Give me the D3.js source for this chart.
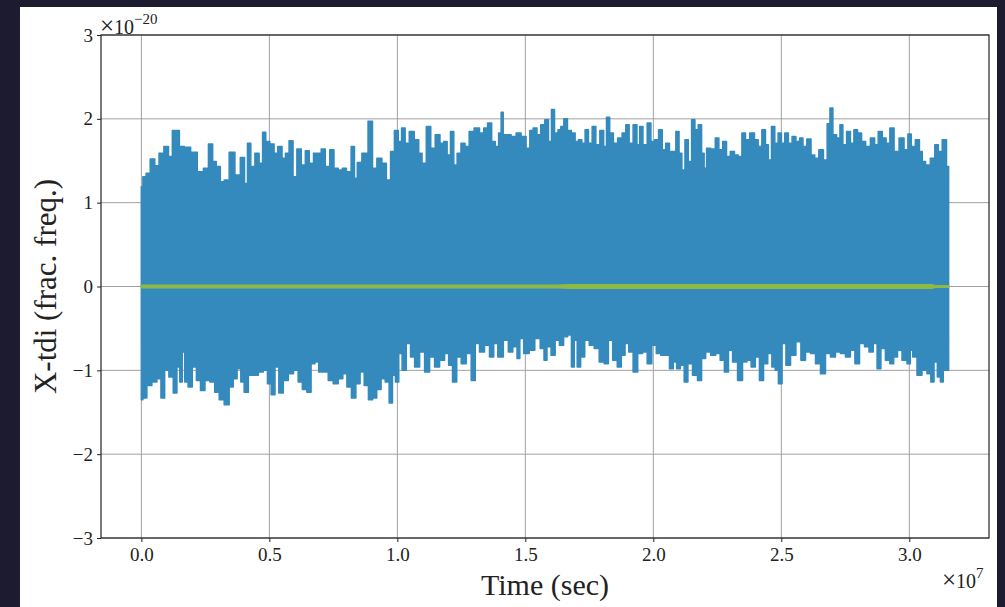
<!DOCTYPE html>
<html>
<head>
<meta charset="utf-8">
<script src="https://cdn.jsdelivr.net/npm/d3@7"></script>
<style>
body { margin: 0; background: #1d1b30; }
</style>
</head>
<body>
<div id="containerDiv"></div>
<script>
// time in units of 1e7 sec, strain in units of 1e-20
var upperTime = [0, 0.012, 0.025, 0.044, 0.061, 0.077, 0.099, 0.113, 0.129, 0.142, 0.155, 0.181, 0.204, 0.233, 0.252, 0.272, 0.285, 0.300, 0.317, 0.330, 0.356, 0.375, 0.398, 0.408, 0.421, 0.434, 0.453, 0.467, 0.480, 0.492, 0.512, 0.525, 0.541, 0.558, 0.568, 0.586, 0.599, 0.616, 0.633, 0.648, 0.664, 0.681, 0.694, 0.711, 0.726, 0.746, 0.759, 0.779, 0.791, 0.811, 0.828, 0.837, 0.850, 0.873, 0.898, 0.908, 0.932, 0.947, 0.967, 0.980, 0.997, 1.010, 1.023, 1.038, 1.055, 1.077, 1.090, 1.103, 1.123, 1.138, 1.158, 1.175, 1.188, 1.201, 1.214, 1.227, 1.240, 1.257, 1.272, 1.289, 1.311, 1.331, 1.344, 1.361, 1.376, 1.389, 1.402, 1.409, 1.418, 1.435, 1.454, 1.474, 1.493, 1.513, 1.522, 1.539, 1.552, 1.568, 1.584, 1.597, 1.607, 1.621, 1.634, 1.643, 1.658, 1.671, 1.688, 1.701, 1.714, 1.727, 1.740, 1.753, 1.769, 1.782, 1.800, 1.812, 1.822, 1.837, 1.851, 1.870, 1.886, 1.899, 1.912, 1.930, 1.942, 1.951, 1.968, 1.984, 1.997, 2.013, 2.028, 2.042, 2.055, 2.071, 2.081, 2.095, 2.106, 2.117, 2.130, 2.143, 2.156, 2.169, 2.182, 2.195, 2.202, 2.214, 2.234, 2.250, 2.262, 2.280, 2.292, 2.309, 2.325, 2.338, 2.354, 2.366, 2.387, 2.403, 2.416, 2.432, 2.444, 2.455, 2.468, 2.481, 2.494, 2.507, 2.520, 2.535, 2.549, 2.565, 2.578, 2.591, 2.608, 2.624, 2.637, 2.656, 2.673, 2.685, 2.695, 2.708, 2.724, 2.734, 2.747, 2.763, 2.777, 2.790, 2.806, 2.821, 2.838, 2.858, 2.871, 2.886, 2.903, 2.916, 2.932, 2.949, 2.971, 2.988, 3.001, 3.014, 3.033, 3.046, 3.055, 3.072, 3.092, 3.107, 3.120, 3.137, 3.1536];
var upperVal = [1.19, 1.31, 1.35, 1.52, 1.44, 1.59, 1.67, 1.55, 1.86, 1.86, 1.67, 1.66, 1.60, 1.37, 1.41, 1.70, 1.49, 1.43, 1.25, 1.27, 1.60, 1.33, 1.54, 1.23, 1.71, 1.43, 1.59, 1.47, 1.84, 1.73, 1.70, 1.59, 1.67, 1.53, 1.59, 1.74, 1.31, 1.64, 1.45, 1.62, 1.47, 1.59, 1.59, 1.64, 1.43, 1.63, 1.41, 1.39, 1.41, 1.37, 1.67, 1.29, 1.48, 1.59, 1.97, 1.41, 1.53, 1.47, 1.27, 1.61, 1.86, 1.73, 1.89, 1.71, 1.85, 1.75, 1.59, 1.47, 1.91, 1.65, 1.81, 1.71, 1.73, 1.57, 1.85, 1.45, 1.59, 1.71, 1.67, 1.85, 1.89, 1.83, 1.89, 1.95, 1.73, 1.67, 1.83, 2.08, 1.81, 1.81, 1.79, 1.83, 1.79, 1.65, 1.86, 1.89, 1.81, 1.93, 1.99, 1.73, 2.11, 1.83, 1.87, 1.91, 2.00, 1.86, 1.83, 1.73, 1.75, 1.71, 1.87, 1.71, 1.91, 1.69, 1.86, 1.67, 2.02, 1.83, 1.71, 1.77, 1.83, 1.93, 1.71, 1.93, 1.69, 1.91, 1.69, 1.95, 1.73, 1.75, 1.87, 1.63, 1.71, 1.61, 1.61, 1.85, 1.59, 1.39, 1.75, 1.49, 1.99, 1.87, 1.93, 1.59, 1.41, 1.65, 1.64, 1.77, 1.63, 1.73, 1.55, 1.61, 1.57, 1.55, 1.83, 1.75, 1.83, 1.75, 1.67, 1.87, 1.69, 1.51, 1.91, 1.71, 1.83, 1.71, 1.83, 1.71, 1.79, 1.73, 1.77, 1.67, 1.76, 1.57, 1.53, 1.63, 1.51, 1.94, 2.13, 1.81, 1.77, 1.93, 1.69, 1.85, 1.71, 1.87, 1.83, 1.73, 1.67, 1.77, 1.69, 1.85, 1.77, 1.71, 1.89, 1.61, 1.77, 1.63, 1.82, 1.67, 1.75, 1.61, 1.49, 1.45, 1.53, 1.69, 1.61, 1.75, 1.43];
var lowerTime = [0, 0.012, 0.031, 0.051, 0.070, 0.083, 0.099, 0.116, 0.133, 0.145, 0.155, 0.165, 0.174, 0.191, 0.207, 0.223, 0.239, 0.258, 0.278, 0.295, 0.313, 0.334, 0.352, 0.366, 0.382, 0.395, 0.408, 0.428, 0.447, 0.467, 0.486, 0.499, 0.515, 0.529, 0.545, 0.564, 0.584, 0.605, 0.620, 0.638, 0.655, 0.671, 0.685, 0.701, 0.720, 0.740, 0.759, 0.779, 0.795, 0.811, 0.830, 0.846, 0.863, 0.878, 0.896, 0.911, 0.928, 0.945, 0.960, 0.976, 0.986, 0.999, 1.012, 1.025, 1.045, 1.058, 1.077, 1.097, 1.116, 1.136, 1.155, 1.175, 1.194, 1.207, 1.224, 1.240, 1.259, 1.279, 1.298, 1.311, 1.331, 1.350, 1.370, 1.383, 1.402, 1.426, 1.441, 1.461, 1.474, 1.483, 1.504, 1.526, 1.548, 1.568, 1.578, 1.591, 1.610, 1.623, 1.643, 1.656, 1.675, 1.685, 1.697, 1.708, 1.724, 1.740, 1.759, 1.779, 1.798, 1.818, 1.831, 1.851, 1.867, 1.883, 1.896, 1.912, 1.930, 1.948, 1.968, 1.984, 2.004, 2.019, 2.039, 2.055, 2.071, 2.085, 2.097, 2.114, 2.127, 2.143, 2.163, 2.182, 2.195, 2.214, 2.234, 2.253, 2.269, 2.286, 2.301, 2.318, 2.340, 2.357, 2.374, 2.390, 2.407, 2.422, 2.439, 2.455, 2.471, 2.481, 2.496, 2.510, 2.526, 2.546, 2.568, 2.585, 2.604, 2.624, 2.643, 2.663, 2.682, 2.702, 2.721, 2.741, 2.760, 2.780, 2.795, 2.816, 2.834, 2.851, 2.867, 2.881, 2.897, 2.916, 2.932, 2.946, 2.962, 2.981, 3.001, 3.007, 3.020, 3.040, 3.059, 3.079, 3.089, 3.104, 3.115, 3.128, 3.137, 3.1536];
var lowerVal = [-1.35, -1.33, -1.18, -1.14, -1.10, -1.33, -1.00, -1.08, -1.27, -0.96, -1.14, -0.78, -1.14, -1.20, -0.96, -1.12, -1.24, -1.12, -1.14, -1.26, -1.35, -1.41, -1.20, -1.10, -0.98, -1.14, -1.26, -1.06, -1.06, -1.02, -1.00, -1.16, -1.29, -0.96, -1.27, -1.12, -1.04, -1.00, -1.14, -1.23, -1.26, -0.92, -0.90, -1.02, -1.02, -1.12, -1.16, -1.10, -1.04, -1.20, -1.33, -1.16, -1.02, -1.18, -1.35, -1.33, -1.23, -1.10, -1.14, -1.39, -1.06, -1.14, -0.80, -1.00, -0.68, -0.84, -0.96, -0.78, -1.02, -0.84, -0.96, -0.88, -0.80, -0.94, -1.14, -0.84, -0.92, -0.80, -1.12, -0.68, -0.78, -0.70, -0.84, -0.68, -0.84, -0.64, -0.78, -0.72, -0.86, -0.62, -0.80, -0.76, -0.62, -0.74, -0.88, -0.72, -0.82, -0.64, -0.70, -0.60, -0.58, -0.96, -0.64, -0.96, -0.84, -0.64, -0.70, -0.74, -0.90, -0.92, -0.64, -0.88, -0.96, -0.82, -0.68, -0.78, -1.02, -0.80, -0.78, -0.92, -0.70, -0.80, -0.82, -0.82, -0.98, -0.90, -0.98, -0.94, -1.14, -0.92, -1.06, -1.12, -0.86, -0.78, -0.82, -0.80, -0.88, -1.02, -0.76, -0.90, -1.12, -0.90, -0.88, -0.96, -0.84, -1.12, -0.92, -0.80, -0.96, -1.00, -1.16, -0.68, -0.94, -0.82, -0.66, -0.88, -0.78, -0.80, -0.92, -1.04, -0.80, -0.84, -0.78, -0.80, -0.84, -0.76, -0.92, -0.68, -0.72, -0.78, -0.68, -0.98, -0.74, -0.88, -0.92, -0.84, -0.76, -0.88, -0.92, -0.76, -0.84, -1.06, -1.00, -1.04, -1.14, -0.90, -1.08, -1.14, -1.00, -1.00];

// second (small) series around zero
var greenTime = [0, 1.62, 1.68, 3.09, 3.10, 3.1536];
var greenAmp = [0.016, 0.016, 0.024, 0.024, 0.010, 0.010];

var xTicks = [0, 0.5, 1.0, 1.5, 2.0, 2.5, 3.0];
var yTicks = [-3, -2, -1, 0, 1, 2, 3];

var w = 1005;
var h = 607;
var padL = 101, padR = 989, padT = 35, padB = 538;
var font = "'Liberation Serif', 'Times New Roman', serif";

var svg = d3.select("#containerDiv")
            .append("svg")
            .attr("width", w)
            .attr("height", h)
            .style("display", "block");

svg.append("rect")
   .attr("x", 20).attr("y", 7)
   .attr("width", 977).attr("height", 600)
   .attr("fill", "white");

var tMax = 3.1536;
var x = d3.scaleLinear()
          .domain([-0.05 * tMax, 1.05 * tMax])
          .range([padL, padR]);
var y = d3.scaleLinear()
          .domain([-3, 3])
          .range([padB, padT]);

// grid
svg.append("g").selectAll("line")
   .data(xTicks)
   .enter()
   .append("line")
   .attr("x1", function(d) { return x(d); })
   .attr("x2", function(d) { return x(d); })
   .attr("y1", padT).attr("y2", padB)
   .attr("stroke", "#a0a0a0")
   .attr("stroke-width", 1);

svg.append("g").selectAll("line")
   .data(yTicks)
   .enter()
   .append("line")
   .attr("y1", function(d) { return y(d); })
   .attr("y2", function(d) { return y(d); })
   .attr("x1", padL).attr("x2", padR)
   .attr("stroke", "#a0a0a0")
   .attr("stroke-width", 1);

svg.append("clipPath").attr("id", "plotClip")
   .append("rect")
   .attr("x", padL).attr("y", padT)
   .attr("width", padR - padL).attr("height", padB - padT);

var plot = svg.append("g").attr("clip-path", "url(#plotClip)");

// blue signal: upper envelope left to right, lower envelope back
var outline = [];
upperTime.forEach(function(t, i) { outline.push([t, upperVal[i]]); });
for (var i = lowerTime.length - 1; i >= 0; i--) {
  outline.push([lowerTime[i], lowerVal[i]]);
}

var line = d3.line()
             .curve(d3.curveStep)
             .x(function(d) { return x(d[0]); })
             .y(function(d) { return y(d[1]); });

plot.append("path")
    .attr("d", line(outline) + "Z")
    .attr("fill", "#348ABD")
    .attr("stroke", "#348ABD")
    .attr("stroke-width", 1.5)
    .attr("stroke-linejoin", "round");

var greenArea = d3.area()
                  .x(function(d, i) { return x(greenTime[i]); })
                  .y0(function(d) { return y(-d); })
                  .y1(function(d) { return y(d); });

plot.append("path")
    .attr("d", greenArea(greenAmp))
    .attr("fill", "#8EBA42")
    .attr("stroke", "#8EBA42")
    .attr("stroke-width", 1.2);

// axes
var xAxis = d3.axisBottom(x)
              .tickValues(xTicks)
              .tickSize(4)
              .tickPadding(6)
              .tickFormat(d3.format(".1f"));
var yAxis = d3.axisLeft(y)
              .tickValues(yTicks)
              .tickSize(4)
              .tickPadding(4)
              .tickFormat(function(d) { return d < 0 ? "\u2212" + Math.abs(d) : d; });

var gx = svg.append("g")
            .attr("transform", "translate(0," + padB + ")")
            .call(xAxis);
var gy = svg.append("g")
            .attr("transform", "translate(" + padL + ",0)")
            .call(yAxis);

[gx, gy].forEach(function(g) {
  g.select(".domain").remove();
  g.selectAll(".tick line").attr("stroke", "#222").attr("stroke-width", 1);
  g.selectAll("text")
   .attr("font-family", font)
   .attr("font-size", "19px")
   .attr("fill", "#222");
});

svg.append("rect")
   .attr("x", padL).attr("y", padT)
   .attr("width", padR - padL).attr("height", padB - padT)
   .attr("fill", "none")
   .attr("stroke", "#222")
   .attr("stroke-width", 1.2);

// offset texts
var offY = svg.append("text")
              .attr("x", padL - 1).attr("y", 34)
              .attr("font-family", font)
              .attr("font-size", "20px")
              .attr("fill", "#222");
offY.append("tspan").attr("font-size", "25px").text("\u00d7");
offY.append("tspan").text("10");
offY.append("tspan").attr("dy", -10).attr("font-size", "15px").text("\u221220");

var offX = svg.append("text")
              .attr("x", 942).attr("y", 588)
              .attr("font-family", font)
              .attr("font-size", "20px")
              .attr("fill", "#222");
offX.append("tspan").attr("font-size", "25px").text("\u00d7");
offX.append("tspan").text("10");
offX.append("tspan").attr("dy", -10).attr("font-size", "15px").text("7");

// axis labels
svg.append("text")
   .attr("x", (padL + padR) / 2).attr("y", 595)
   .attr("text-anchor", "middle")
   .attr("font-family", font)
   .attr("font-size", "30px")
   .attr("fill", "#222")
   .text("Time (sec)");

svg.append("text")
   .attr("transform", "translate(56," + (padT + padB) / 2 + ") rotate(-90)")
   .attr("text-anchor", "middle")
   .attr("font-family", font)
   .attr("font-size", "31px")
   .attr("fill", "#222")
   .text("X-tdi (frac. freq.)");
</script>
</body>
</html>
